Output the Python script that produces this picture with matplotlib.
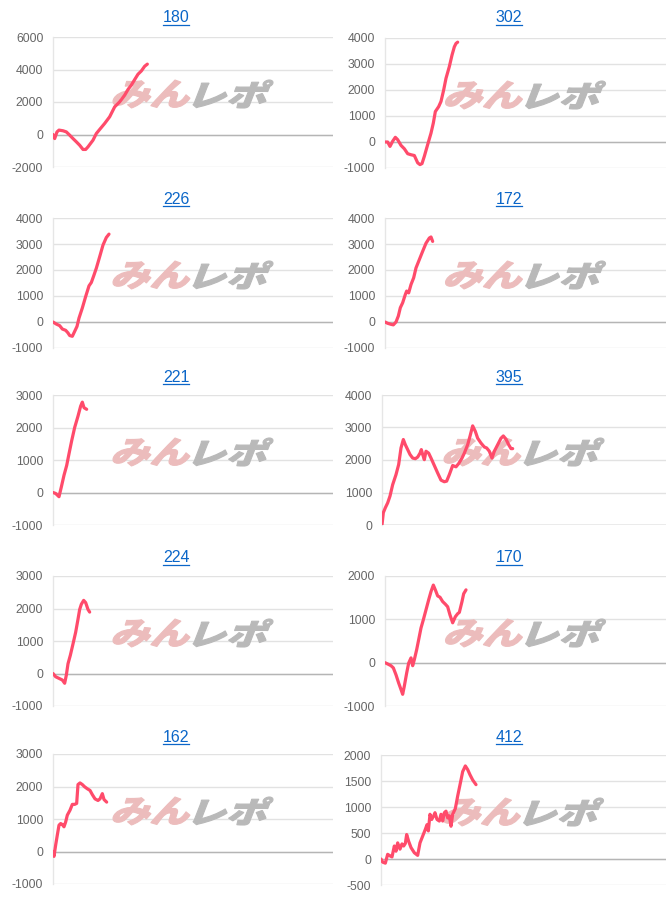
import matplotlib
matplotlib.use("Agg")
import matplotlib.pyplot as plt
import numpy as np
from matplotlib.textpath import TextPath
from matplotlib.font_manager import FontProperties
from matplotlib.patches import PathPatch
from matplotlib.transforms import Affine2D, IdentityTransform
from matplotlib.lines import Line2D

plt.rcParams["axes.unicode_minus"] = False

# machine numbers (titles), read left->right, top->bottom
titles = ["180", "302", "226", "172", "221", "395", "224", "170", "162", "412"]

# games played / coin difference for each machine
games_180 = [0, 50, 120, 180, 300, 400, 500, 600, 700, 800, 900, 980, 1050, 1200, 1300, 1400,
             1550, 1700, 1850, 2000, 2150, 2250, 2350, 2450, 2550, 2650, 2750, 2830]
diff_180 = [0, -250, 160, 270, 230, 160, -40, -250, -450, -660, -920, -920, -760, -350, 60, 310,
            680, 1090, 1700, 2010, 2420, 2770, 3040, 3380, 3710, 3910, 4200, 4330]

games_302 = [0, 80, 150, 230, 310, 380, 480, 580, 680, 780, 880, 980, 1050, 1110, 1180, 1280,
             1380, 1450, 1510, 1610, 1680, 1760, 1830, 1930, 2010, 2080, 2130, 2180]
diff_302 = [0, 0, -170, 30, 180, 90, -130, -260, -450, -490, -520, -800, -870, -830, -550, -100,
            340, 730, 1170, 1360, 1560, 2000, 2450, 2900, 3340, 3660, 3790, 3840]

games_226 = [0, 100, 200, 280, 380, 450, 500, 580, 650, 720, 780, 880, 980, 1080, 1150, 1220,
             1300, 1400, 1500, 1600, 1680]
diff_226 = [0, -80, -140, -270, -320, -420, -520, -550, -360, -170, 150, 540, 980, 1390, 1520, 1770,
            2070, 2510, 2960, 3250, 3380]

games_172 = [0, 80, 180, 250, 330, 400, 460, 530, 610, 650, 710, 780, 860, 930, 1030, 1130,
             1230, 1330, 1380, 1430]
diff_172 = [0, -50, -90, -110, 0, 230, 550, 740, 1060, 1190, 1120, 1440, 1700, 2080, 2400, 2720,
            3030, 3230, 3270, 3100]

games_221 = [0, 80, 180, 250, 330, 410, 480, 560, 650, 750, 830, 880, 930, 1010]
diff_221 = [0, -30, -130, 170, 530, 830, 1190, 1590, 2000, 2350, 2660, 2780, 2610, 2560]

games_395 = [0, 40, 100, 170, 240, 320, 420, 500, 570, 640, 700, 770, 840, 920, 1000, 1070, 1140,
             1180, 1220, 1270, 1320, 1400, 1470, 1570, 1670, 1770, 1870, 1940, 2020, 2120, 2220,
             2300, 2400, 2470, 2570, 2640, 2720, 2800, 2870, 2970, 3070, 3140, 3220, 3300, 3370,
             3470, 3570, 3640, 3720, 3800, 3870, 3920]
diff_395 = [0, 380, 530, 680, 890, 1240, 1550, 1860, 2370, 2630, 2470, 2320, 2170, 2060, 2040, 2090,
            2210, 2320, 2170, 2010, 2270, 2210, 2060, 1830, 1600, 1380, 1330, 1350, 1550, 1830,
            1790, 1890, 2060, 2210, 2470, 2730, 3050, 2880, 2670, 2520, 2400, 2370, 2270, 2060,
            2270, 2470, 2670, 2740, 2640, 2470, 2350, 2350]

games_224 = [0, 80, 180, 280, 350, 400, 450, 520, 600, 680, 750, 800, 850, 920, 980, 1050, 1100]
diff_224 = [0, -100, -150, -200, -300, -50, 300, 560, 910, 1270, 1670, 1970, 2130, 2250, 2180, 1970, 1890]

games_170 = [0, 80, 180, 250, 330, 410, 480, 530, 580, 650, 710, 780, 830, 880, 950, 1010, 1080,
             1150, 1230, 1310, 1380, 1450, 1510, 1580, 1650, 1730, 1810, 1880, 1950, 2030, 2110,
             2180, 2230, 2310, 2360, 2430]
diff_170 = [0, -30, -70, -120, -280, -470, -620, -730, -540, -240, -10, 110, -70, 70, 300, 530, 800,
            990, 1220, 1450, 1640, 1790, 1680, 1540, 1510, 1410, 1350, 1290, 1100, 920, 1060,
            1130, 1160, 1410, 1590, 1680]

games_162 = [0, 30, 80, 130, 180, 230, 280, 330, 380, 430, 510, 580, 650, 710, 750, 810, 880, 950,
             1030, 1110, 1180, 1260, 1350, 1410, 1480, 1530, 1610]
diff_162 = [0, -150, 200, 510, 810, 860, 830, 760, 910, 1120, 1270, 1450, 1450, 1480, 2060, 2110,
            2060, 1990, 1930, 1880, 1750, 1620, 1570, 1620, 1780, 1600, 1520]

games_412 = [0, 50, 130, 200, 270, 330, 400, 450, 500, 570, 630, 680, 730, 770, 830, 900, 1000,
             1100, 1170, 1250, 1330, 1380, 1420, 1470, 1520, 1580, 1620, 1680, 1750, 1800, 1850,
             1900, 1950, 2000, 2050, 2100, 2150, 2230, 2300, 2400, 2450, 2530, 2600, 2670, 2750, 2850]
diff_412 = [0, -60, -80, 90, 60, 40, 250, 150, 310, 190, 290, 250, 300, 470, 340, 220, 120, 70,
            310, 440, 570, 660, 540, 860, 760, 830, 890, 760, 730, 860, 730, 890, 920, 790, 830,
            630, 860, 970, 1210, 1520, 1680, 1790, 1720, 1620, 1520, 1430]

games = [games_180, games_302, games_226, games_172, games_221,
         games_395, games_224, games_170, games_162, games_412]
diffs = [diff_180, diff_302, diff_226, diff_172, diff_221,
         diff_395, diff_224, diff_170, diff_162, diff_412]

# y axis range and tick step
y_min = [-2000, -1000, -1000, -1000, -1000, 0, -1000, -1000, -1000, -500]
y_max = [6000, 4000, 4000, 4000, 3000, 4000, 3000, 2000, 3000, 2000]
y_step = [2000, 1000, 1000, 1000, 1000, 1000, 1000, 1000, 1000, 500]

W, H = 666, 900
fig = plt.figure(figsize=(W / 100, H / 100), dpi=100)

# pixel layout of each plot area
ax_left = [53, 385, 53, 385, 53, 382, 53, 385, 53, 381]
ax_top = [37, 38, 218, 218, 395, 395, 576, 576, 754, 755]
ax_h = 130
title_y = [18, 18, 199, 199, 377, 377, 558, 558, 737, 737]

line_color = "#ff4b6b"
title_color = "#0b66c8"
wm_font = FontProperties(family="Noto Sans CJK JP", weight="black")


def stamp(ax, text, color, x0, x1, yc, h):
    tp = TextPath((0, 0), text, size=100, prop=wm_font)
    p = Affine2D().skew_deg(16, 0).transform_path(tp)
    ext = p.get_extents()
    tr = (Affine2D().translate(-ext.x0, -ext.y0)
          .scale((x1 - x0) / ext.width, h / ext.height)
          .translate(x0, H - yc - h / 2))
    patch = PathPatch(tr.transform_path(p), fc=color, ec=color, lw=0.8,
                      transform=IdentityTransform(), zorder=1.5)
    ax.add_artist(patch)


title_texts = []
for i in range(10):
    col = i % 2
    left = ax_left[i]
    right = 333 if col == 0 else 666
    top = ax_top[i]
    ax = fig.add_axes([left / W, 1 - (top + ax_h) / H, (right - left) / W, ax_h / H])

    ax.plot(games[i], diffs[i], color=line_color, lw=2.3, solid_joinstyle="round",
            solid_capstyle="round", zorder=3)

    ax.set_xlim(0, (right - left) * 30)
    ax.set_ylim(y_min[i], y_max[i])
    ax.set_yticks(np.arange(y_min[i], y_max[i] + 1, y_step[i]))
    ax.set_xticks([])
    ax.tick_params(axis="y", length=0, pad=7, labelsize=8.8, labelcolor="#666666")
    for lab in ax.get_yticklabels():
        lab.set_family("Liberation Sans")
    ax.yaxis.grid(True, color="#e2e2e2", lw=1, zorder=0)
    ax.axhline(0, color="#b5b5b5", lw=1, zorder=1)
    for s in ["top", "right", "bottom"]:
        ax.spines[s].set_visible(False)
    ax.spines["left"].set_color("#e6e6e6")
    ax.spines["left"].set_linewidth(1)
    ax.set_axisbelow(True)

    # watermark
    cx = (left + right) / 2
    yc = top + 57
    stamp(ax, "みん", "#ecbcbc", cx - 80, cx - 3, yc, 28)
    stamp(ax, "レポ", "#b9b9b9", cx + 0, cx + 80, yc, 28)

    t = fig.text((col * 333 + 176) / W, 1 - title_y[i] / H, titles[i], ha="center", va="center",
                 fontsize=11.5, color=title_color, family="Liberation Sans")
    title_texts.append(t)

fig.canvas.draw()
r = fig.canvas.get_renderer()
for t in title_texts:
    bb = t.get_window_extent(r)
    fig.add_artist(Line2D([bb.x0, bb.x1], [bb.y0 + 1, bb.y0 + 1], color=title_color, lw=0.9,
                          transform=IdentityTransform()))

fig.savefig("out.png", dpi=100, facecolor="white")
